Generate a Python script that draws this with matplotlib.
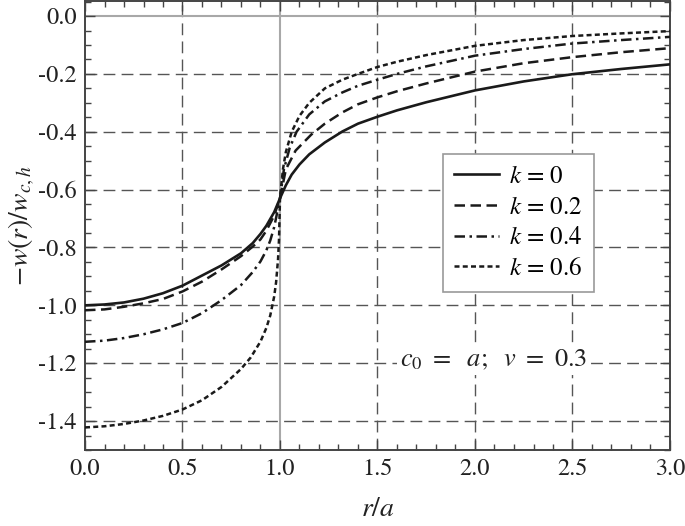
import matplotlib
matplotlib.use("Agg")
import matplotlib.pyplot as plt
from matplotlib.ticker import MultipleLocator

plt.rcParams['font.family'] = ['STIXGeneral', 'DejaVu Serif']
plt.rcParams['mathtext.fontset'] = 'stix'

# ---- data ----
x_k0 = [0, 0.1, 0.2, 0.3, 0.4, 0.5, 0.6, 0.7, 0.8, 0.86, 0.9, 0.93, 0.97, 1.0,
        1.03, 1.06, 1.1, 1.15, 1.23, 1.32, 1.4, 1.5, 1.6, 1.75, 2.0, 2.25, 2.5, 2.75, 3.0]
y_k0 = [-1.0, -0.997, -0.99, -0.977, -0.958, -0.932, -0.897, -0.862, -0.82, -0.785,
        -0.753, -0.725, -0.678, -0.63, -0.585, -0.548, -0.513, -0.478, -0.437, -0.399,
        -0.372, -0.348, -0.326, -0.298, -0.257, -0.226, -0.201, -0.183, -0.167]

x_k2 = [0, 0.1, 0.2, 0.3, 0.4, 0.5, 0.6, 0.7, 0.8, 0.86, 0.9, 0.93, 0.97, 1.0,
        1.03, 1.08, 1.16, 1.23, 1.32, 1.4, 1.5, 1.6, 1.75, 2.0, 2.25, 2.5, 2.75, 3.0]
y_k2 = [-1.017, -1.014, -1.005, -0.993, -0.978, -0.952, -0.918, -0.876, -0.83, -0.797,
        -0.772, -0.742, -0.69, -0.63, -0.53, -0.465, -0.41, -0.372, -0.333, -0.305,
        -0.281, -0.26, -0.233, -0.192, -0.163, -0.142, -0.125, -0.111]

x_k4 = [0, 0.1, 0.2, 0.3, 0.4, 0.5, 0.6, 0.7, 0.8, 0.86, 0.9, 0.93, 0.95, 0.97, 0.99,
        1.0, 1.02, 1.05, 1.085, 1.15, 1.23, 1.32, 1.4, 1.5, 1.6, 1.75, 2.0, 2.25, 2.5,
        2.75, 3.0]
y_k4 = [-1.126, -1.122, -1.113, -1.1, -1.083, -1.061, -1.027, -0.982, -0.93, -0.885,
        -0.848, -0.81, -0.776, -0.73, -0.665, -0.63, -0.53, -0.455, -0.40, -0.34,
        -0.295, -0.264, -0.241, -0.22, -0.2, -0.174, -0.137, -0.114, -0.095, -0.083,
        -0.072]

x_k6 = [0, 0.1, 0.2, 0.3, 0.4, 0.5, 0.6, 0.7, 0.8, 0.85, 0.9, 0.93, 0.95, 0.97, 0.98,
        0.99, 0.995, 1.0, 1.015, 1.03, 1.06, 1.1, 1.15, 1.23, 1.32, 1.4, 1.5, 1.6, 1.75,
        2.0, 2.25, 2.5, 2.75, 3.0]
y_k6 = [-1.422, -1.418, -1.41, -1.398, -1.382, -1.36, -1.328, -1.282, -1.22, -1.18,
        -1.125, -1.078, -1.035, -0.97, -0.92, -0.84, -0.77, -0.63, -0.53, -0.47, -0.40,
        -0.345, -0.30, -0.25, -0.22, -0.20, -0.176, -0.158, -0.135, -0.103, -0.083,
        -0.069, -0.06, -0.052]

labels = [r'$k$ = 0', r'$k$ = 0.2', r'$k$ = 0.4', r'$k$ = 0.6']
x_ticks = [0.0, 0.5, 1.0, 1.5, 2.0, 2.5, 3.0]
y_ticks = [0.0, -0.2, -0.4, -0.6, -0.8, -1.0, -1.2, -1.4]
x_tick_labels = ['0.0', '0.5', '1.0', '1.5', '2.0', '2.5', '3.0']
y_tick_labels = ['0.0', '-0.2', '-0.4', '-0.6', '-0.8', '-1.0', '-1.2', '-1.4']

# ---- figure ----
fig = plt.figure(figsize=(6.85, 5.26), dpi=100)
ax = fig.add_axes([85/685, 1-450/526, 585/685, 449/526])

ax.set_xlim(0, 3.0)
ax.set_ylim(-1.5, 0.052)

grid_col = '#555555'
for xv in x_ticks:
    if xv in (0.0, 3.0):
        continue
    if xv == 1.0:
        ax.axvline(xv, color='#a8a8a8', lw=1.5, zorder=1)
    else:
        ax.axvline(xv, color=grid_col, lw=1.0, ls=(0, (8.5, 4.5)), zorder=1)
for yv in y_ticks:
    if yv == 0.0:
        ax.axhline(yv, color='#a8a8a8', lw=1.5, zorder=1)
    else:
        ax.axhline(yv, color=grid_col, lw=1.0, ls=(0, (8.5, 4.5)), zorder=1)

lc = '#1a1a1a'
ax.plot(x_k0, y_k0, color=lc, lw=1.9, ls='-', label=labels[0], zorder=3)
ax.plot(x_k2, y_k2, color=lc, lw=1.8, ls=(0, (4.2, 2.2)), label=labels[1], zorder=3)
ax.plot(x_k4, y_k4, color=lc, lw=1.8, ls=(0, (4.2, 1.8, 1.0, 1.8)), label=labels[2], zorder=3)
ax.plot(x_k6, y_k6, color=lc, lw=1.8, ls=(0, (2.0, 1.3)), label=labels[3], zorder=3)

ax.set_xticks(x_ticks)
ax.set_xticklabels(x_tick_labels)
ax.set_yticks(y_ticks)
ax.set_yticklabels(y_tick_labels)
ax.xaxis.set_minor_locator(MultipleLocator(0.1))
ax.yaxis.set_minor_locator(MultipleLocator(0.05))
ax.tick_params(which='both', direction='in', top=True, right=True, color='#444444',
               labelsize=17.5, labelcolor='#222222')
ax.tick_params(which='major', length=7, width=1.0, pad=6)
ax.tick_params(which='minor', length=4.5, width=1.0)
for s in ax.spines.values():
    s.set_color('#444444')
    s.set_linewidth(1.4)

ax.set_xlabel(r'$r/a$', fontsize=20, color='#222222', labelpad=12)
ax.set_ylabel(r'$-w(r)/w_{c,h}$', fontsize=20, color='#222222', labelpad=1)

leg = ax.legend(loc='upper left', bbox_to_anchor=(0.612, 0.66), fontsize=18,
                frameon=True, fancybox=False, edgecolor='#999999', framealpha=1,
                handlelength=1.8, handletextpad=0.4, labelspacing=0.27,
                borderpad=0.45, borderaxespad=0)
leg.get_frame().set_linewidth(1.2)
leg.set_zorder(5)

ax.text(2.095, -1.19, r'$c_0\ =\ \ a;\ \ v\ =\ 0.3$', fontsize=19, ha='center',
        va='center', color='#222222', zorder=4,
        bbox=dict(facecolor='white', edgecolor='none', pad=2))

fig.savefig('out.png', dpi=100)
